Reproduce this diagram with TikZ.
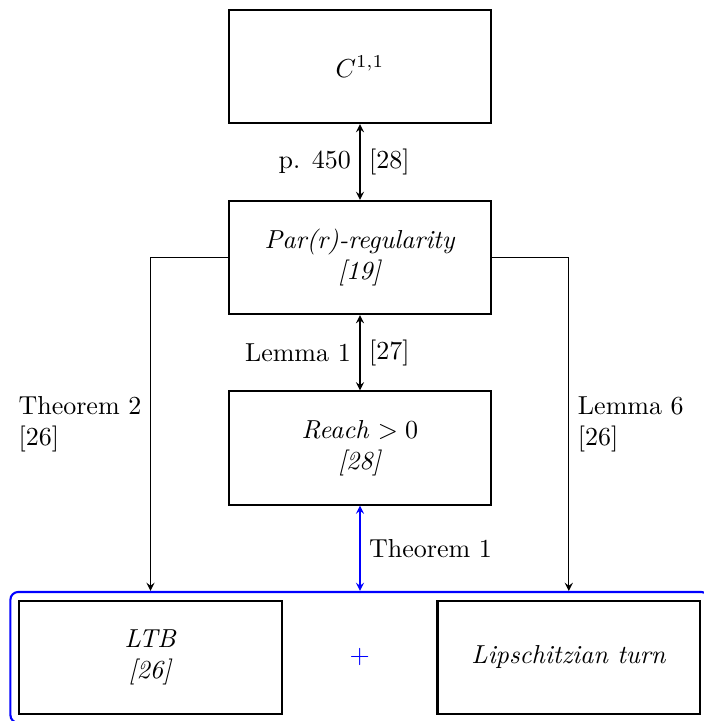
\documentclass[tikz,border=0pt]{standalone}
\usepackage{tikz}
\usetikzlibrary{fit,calc}

\begin{document}
\begin{tikzpicture}[
    box/.style={draw, thick, minimum width=3.55cm, minimum height=1.53cm, align=center},
    link/.style={stealth-stealth},
    group/.style={draw=blue, thick, rounded corners=3pt, inner sep=3pt}]
                \useasboundingbox (0,0) rectangle (9.505,9.748);
                \node[box] (c) at (4.867,8.849) {$C^{1,1}$};
                \node[box] (par) at (4.867,6.266) {\textit{Par(r)-regularity}\\\textit{[19]}};
                \node[box] (reach) at (4.867,3.691) {\textit{Reach} $> 0$\\\textit{[28]}};
                \node[box] (ltb) at (2.035,0.86) {\textit{LTB}\\\textit{[26]}};
                \node[box] (lip) at (7.69,0.86) {\textit{Lipschitzian turn}};
                \node[group, fit=(ltb)(lip)] (both) {};
                \node[text=blue] (plus) at ($(ltb)!0.5!(lip)$) {$+$};
                \draw[link] (c) -- (par) node[midway, left] {p. 450} node[midway, right] {[28]};
                \draw[link] (par) -- (reach) node[midway, left] {Lemma 1} node[midway, right] {[27]};
                \draw[link, blue] (reach) -- (reach |- both.north) node[midway, right, text=black] {Theorem 1};
                \draw[-stealth] (par.west) -| (ltb |- both.north) node[pos=0.75, left, align=left] {Theorem 2\\{}[26]};
                \draw[-stealth] (par.east) -| (lip |- both.north) node[pos=0.75, right, align=left] {Lemma 6\\{}[26]};
            \end{tikzpicture}
\end{document}
